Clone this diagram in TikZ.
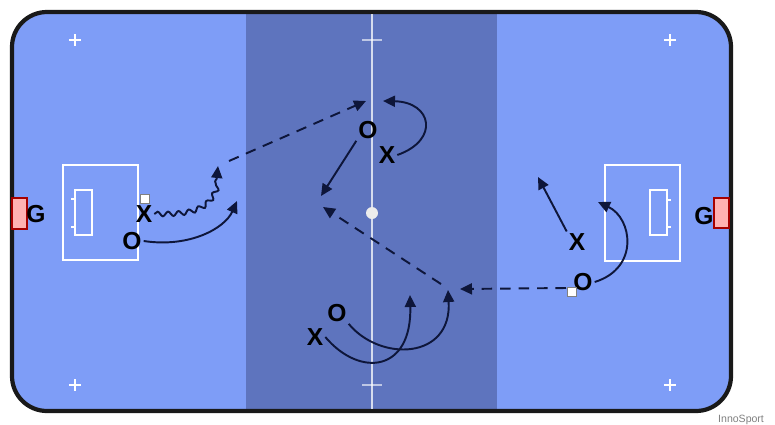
\documentclass[tikz,border=0pt]{standalone}
\usepackage{fontspec}
\setmainfont{Liberation Sans}
\usetikzlibrary{arrows.meta, positioning, decorations.pathmorphing}
\definecolor{fieldblue}{RGB}{126,157,247}
\definecolor{bandblue}{RGB}{94,116,190}
\definecolor{inkblue}{RGB}{14,22,58}

\begin{document}
\begin{tikzpicture}[
    x=0.02cm,
    y=-0.02cm,
    player/.style={
        font=\fontsize{14}{14}\selectfont\bfseries,
        text=black,
        inner sep=1pt
    },
    run/.style={
        -{Triangle[length=2.4mm,width=2.2mm]},
        line width=1.1pt,
        draw=inkblue
    },
    pass/.style={
        run,
        dash pattern=on 6pt off 4.5pt
    },
    chalk/.style={
        draw=white,
        line width=1pt
    },
    ball/.style={
        rectangle,
        draw=gray,
        fill=white,
        inner sep=0pt,
        minimum size=5pt
    },
    goal/.style={
        draw=red!65!black,
        fill=red!30!white,
        line width=1pt
    }
]
    \useasboundingbox[fill=white] (0,0) rectangle (775,424);
    \fill[fieldblue, rounded corners=0.7cm] (12,12) rectangle (731,411);
    \fill[bandblue] (246,13) rectangle (497,410);
    \draw[line width=2.4pt, draw=black!90, rounded corners=0.7cm] (12,12) rectangle (731,411);

    \draw[white, opacity=0.75, line width=1.6pt] (372,14) -- (372,409);
    \draw[white, opacity=0.6, line width=1pt] (362,40) -- (382,40);
    \draw[white, opacity=0.6, line width=1pt] (362,385) -- (382,385);
    \fill[white!85!gray] (372,213) circle (0.12cm);
    \foreach \px/\py in {75/40, 670/40, 75/385, 670/385}
        \draw[white, line width=1pt] (\px-6,\py) -- (\px+6,\py) (\px,\py-6) -- (\px,\py+6);

    \draw[chalk] (63,165) rectangle (138,260);
    \draw[chalk] (75,190) rectangle (92,235);
    \draw[chalk] (71,199) -- (75,199) (71,227) -- (75,227);
    \draw[chalk] (605,165) rectangle (680,261);
    \draw[chalk] (650,190) rectangle (667,235);
    \draw[chalk] (667,200) -- (671,200) (667,227) -- (671,227);

    \draw[goal] (12,198) rectangle (27,229);
    \draw[goal] (714,198) rectangle (729,228);
    \node[player] (g1) at (36,214) {G};
    \node[player] (g2) at (704,216) {G};

    \node[player] (x1) at (144,214) {X};
    \node[player] (o1) at (132,241) {O};
    \node[player] (o2) at (368,130) {O};
    \node[player] (x2) at (387,155) {X};
    \node[player] (o3) at (337,313) {O};
    \node[player] (x3) at (315,337) {X};
    \node[player] (x4) at (577,242) {X};
    \node[player] (o4) at (583,282) {O};
    \node[ball] (b1) at (145,199) {};
    \node[ball] (b2) at (572,292) {};

    \coordinate (t1) at (218,166);
    \coordinate (t2) at (237,201);
    \coordinate (p1) at (229,161);
    \coordinate (t3) at (366,101);
    \coordinate (t4) at (383,101);
    \coordinate (t5) at (321,196);
    \coordinate (t6) at (323,207);
    \coordinate (p2) at (441,284);
    \coordinate (p3) at (566,288);
    \coordinate (t7) at (460,289);
    \coordinate (t8) at (448,290);
    \coordinate (t9) at (410,295);
    \coordinate (t10) at (598,202);
    \coordinate (t11) at (538,177);

    \draw[run, decorate, decoration={snake, amplitude=1.3pt, segment length=6pt, post length=2.5mm}]
        (x1.east) .. controls (190,214) and (216,212) .. (t1);
    \draw[run] (o1.east) .. controls (190,248) and (225,228) .. (t2);
    \draw[pass] (p1) -- (t3);
    \draw[run] (x2.east) .. controls (440,140) and (432,102) .. (t4);
    \draw[run] (o2.south west) -- (t5);
    \draw[pass] (p2) -- (t6);
    \draw[pass] (p3) -- (t7);
    \draw[run] (o3.south east) .. controls (380,362) and (452,360) .. (t8);
    \draw[run] (x3.east) .. controls (360,378) and (412,372) .. (t9);
    \draw[run] (o4.east) .. controls (640,268) and (632,218) .. (t10);
    \draw[run] (x4.north west) -- (t11);

    \node[font=\fontsize{6}{6}\selectfont, text=gray, anchor=west] (mark) at (712,420) {InnoSport};
\end{tikzpicture}
\end{document}
